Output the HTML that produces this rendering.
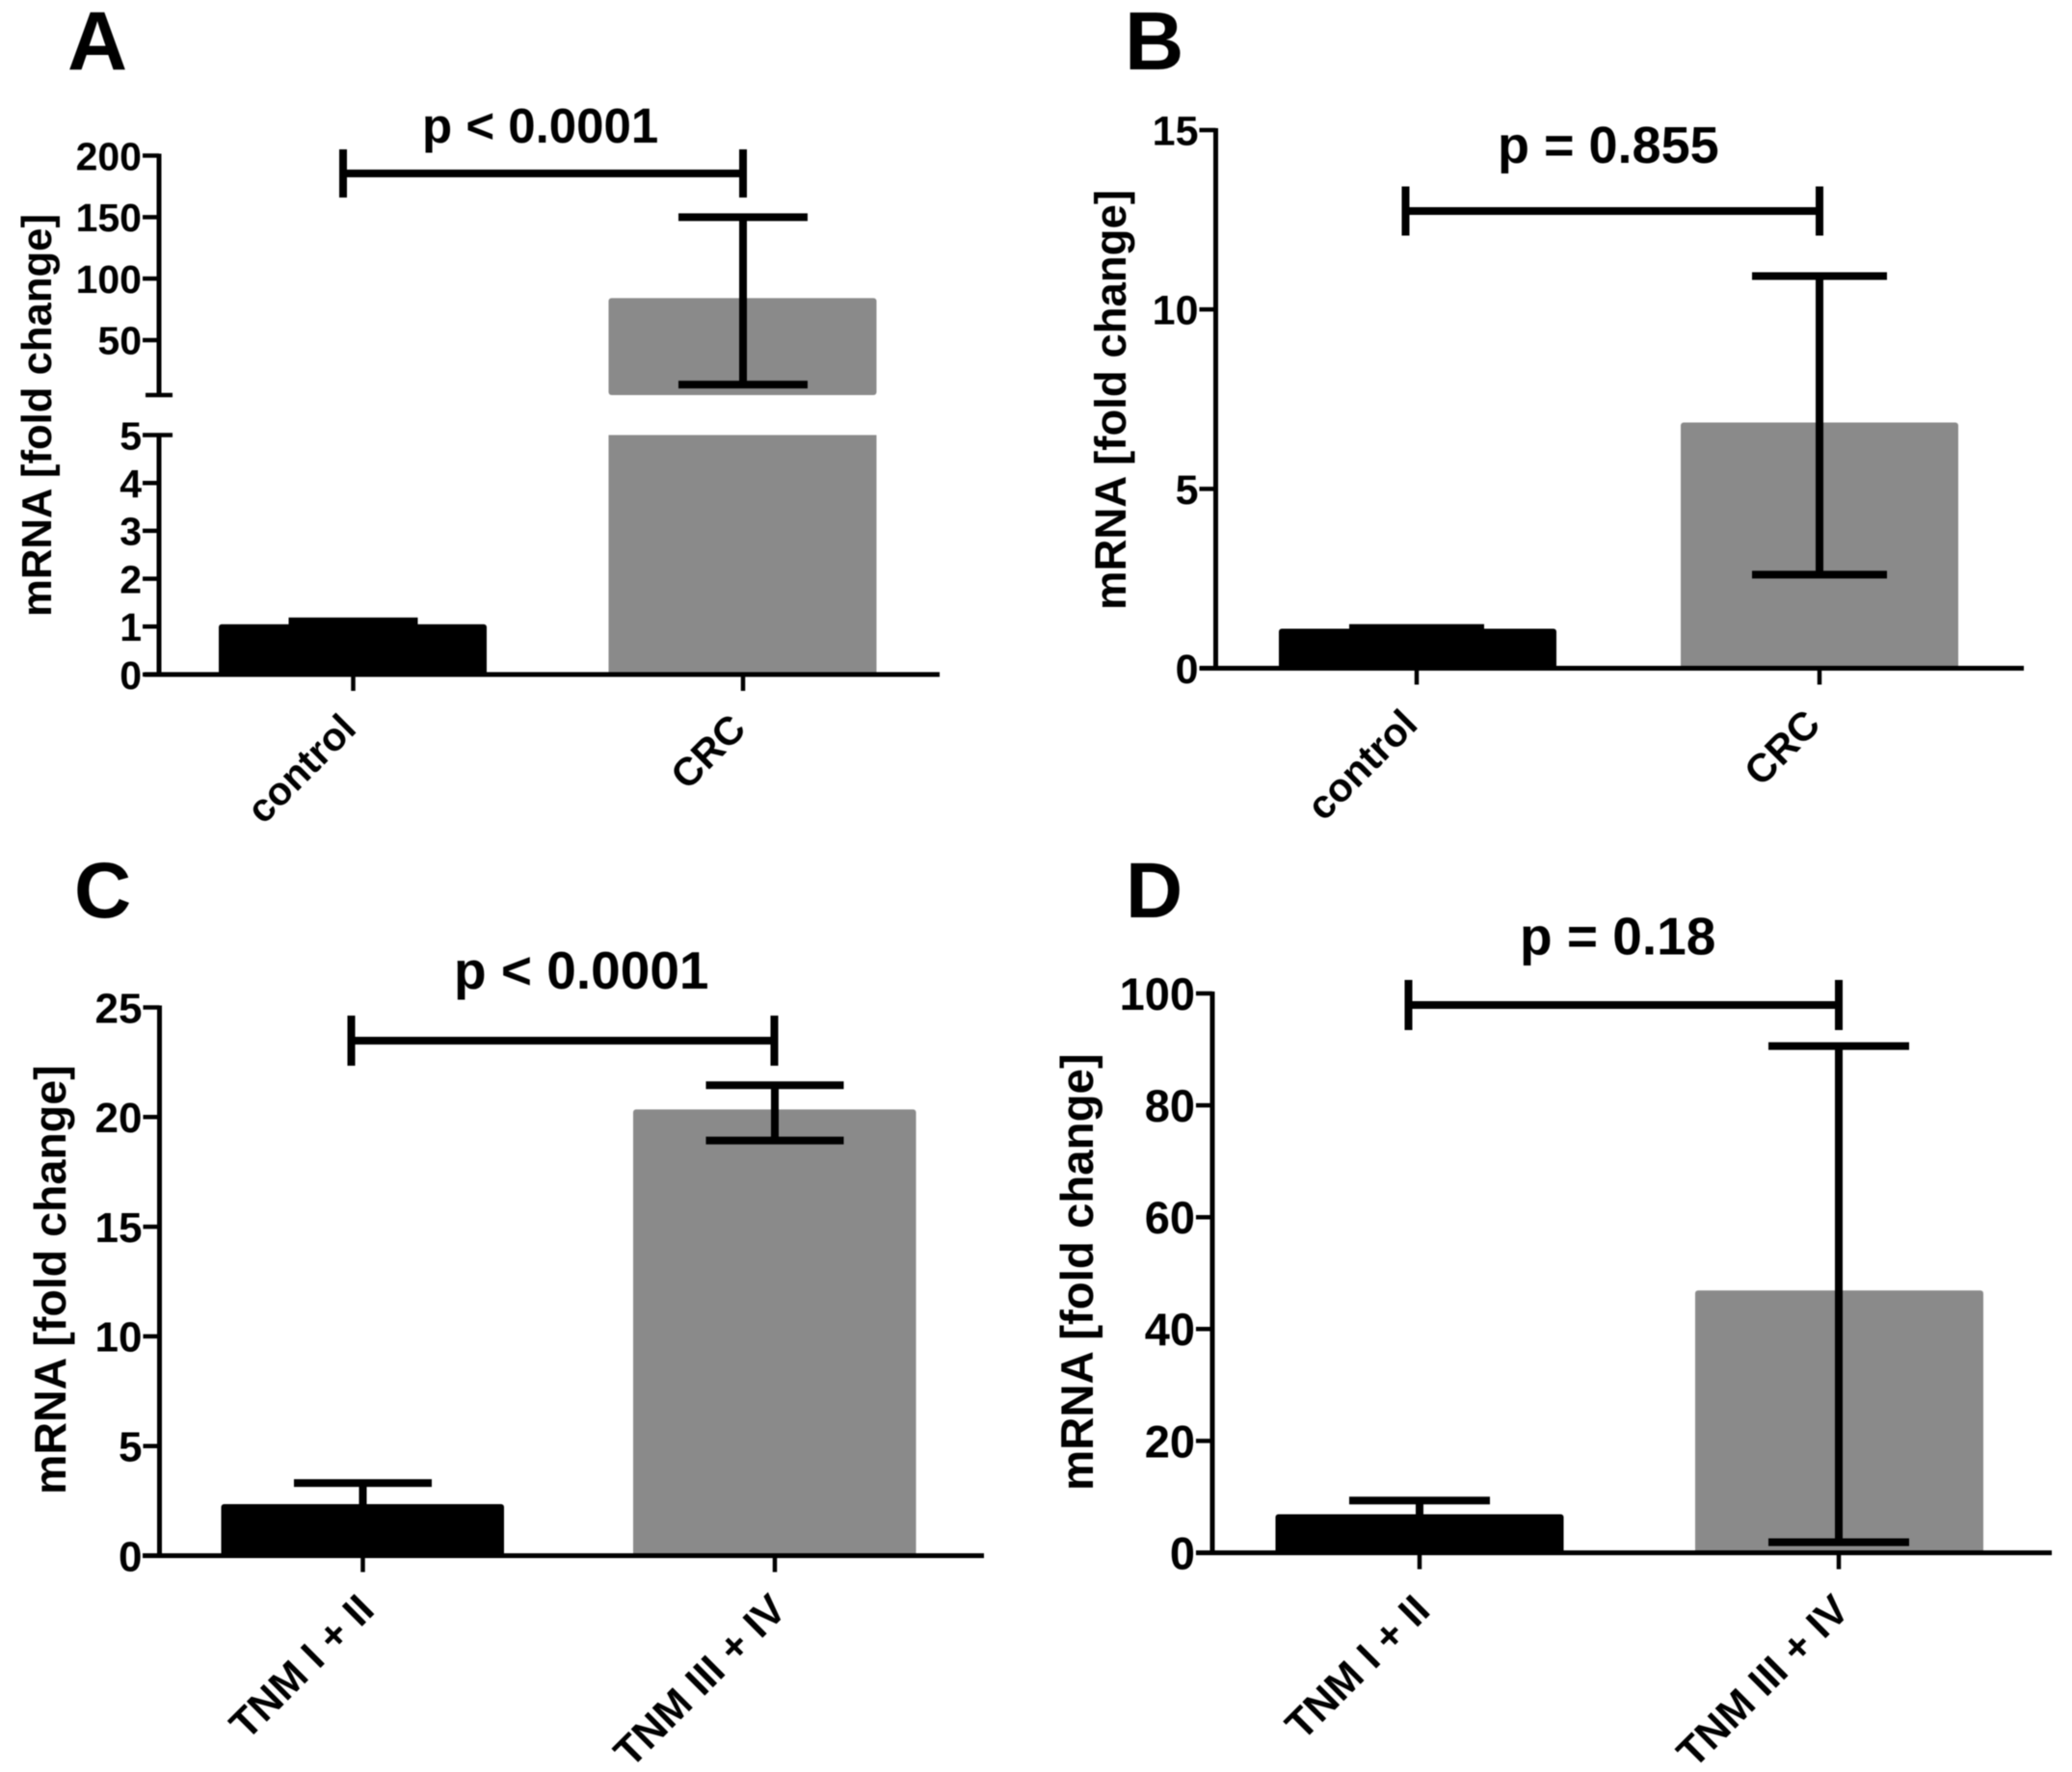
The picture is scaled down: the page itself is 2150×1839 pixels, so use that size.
<!DOCTYPE html>
<html>
<head>
<meta charset="utf-8">
<title>mRNA fold change bar charts</title>
<style>
html,body{margin:0;padding:0;background:#fff;}
svg{display:block;filter:blur(0.6px);}
text{font-family:"Liberation Sans",Arial,sans-serif;font-weight:bold;fill:#000;}
</style>
</head>
<body>
<svg id="figure" xmlns="http://www.w3.org/2000/svg" width="2150" height="1839" viewBox="0 0 2150 1839">
<rect width="2150" height="1839" fill="#fff"/>
</svg>
<script>
// ---- data: panel A ----
const categoriesA = ['control', 'CRC'];
const meansA = [1.05, 84.1];
const errLowA = [0.95, 13.8];
const errHighA = [1.11, 150];
const ticksLowerA = [0, 1, 2, 3, 4, 5];
const ticksUpperA = [50, 100, 150, 200];
const pLabelA = 'p < 0.0001';
// ---- data: panel B ----
const categoriesB = ['control', 'CRC'];
const meansB = [1.10, 6.85];
const errLowB = [1.0, 2.61];
const errHighB = [1.12, 10.93];
const ticksB = [0, 5, 10, 15];
const pLabelB = 'p = 0.855';
// ---- data: panel C ----
const categoriesC = ['TNM I + II', 'TNM III + IV'];
const meansC = [2.35, 20.35];
const errLowC = [1.27, 18.93];
const errHighC = [3.31, 21.45];
const ticksC = [0, 5, 10, 15, 20, 25];
const pLabelC = 'p < 0.0001';
// ---- data: panel D ----
const categoriesD = ['TNM I + II', 'TNM III + IV'];
const meansD = [6.9, 46.9];
const errLowD = [3.9, 1.9];
const errHighD = [9.35, 90.6];
const ticksD = [0, 20, 40, 60, 80, 100];
const pLabelD = 'p = 0.18';

const yTitle = 'mRNA [fold change]';
const svg = document.getElementById('figure');
const NS = 'http://www.w3.org/2000/svg';

function make(tag, attrs, parent, name) {
  const el = document.createElementNS(NS, tag);
  for (const k in attrs) el.setAttribute(k, attrs[k]);
  
  
  parent.appendChild(el);
  return el;
}
function line(parent, x1, y1, x2, y2, w, name) {
  return make('line', {x1: x1, y1: y1, x2: x2, y2: y2, stroke: '#000', 'stroke-width': w}, parent, name);
}
function label(parent, str, attrs, name) {
  const t = make('text', attrs, parent, name);
  t.textContent = str;
  return t;
}

function drawPanel(p) {
  const g = make('g', {}, svg, 'panel-' + p.letter.toLowerCase());
  const segY = (s, v) => s.pxBottom + (v - s.min) / (s.max - s.min) * (s.pxTop - s.pxBottom);
  const segFor = v => p.segments.find(s => v <= s.max) || p.segments[p.segments.length - 1];
  const y = v => segY(segFor(v), v);
  const x = i => p.xFirst + i * (p.xSecond - p.xFirst);
  const baseY = p.segments[0].pxBottom;

  label(g, p.letter, {x: p.letterX, y: p.letterY, 'font-size': p.letterFont}, 'panel-letter-' + p.letter.toLowerCase());

  // bars
  p.means.forEach((m, i) => {
    p.segments.forEach((s, j) => {
      if (m <= s.min) return;
      const top = segY(s, Math.min(m, s.max));
      const bot = s.pxBottom;
      make('rect', {x: p.barLeft[i], y: top, width: p.barWidth, height: bot - top, rx: m <= s.max ? 3 : 0,
        fill: i === 0 ? '#000' : '#8a8a8a'}, g, 'bar-' + p.categories[i].toLowerCase().replace(/[^a-z]+/g, '-') + '-seg-' + j);
    });
  });

  // error bars
  p.means.forEach((m, i) => {
    const hi = y(p.errHigh[i]), lo = y(p.errLow[i]), cx = x(i), cap = p.capHalf;
    line(g, cx, hi, cx, lo, 8, 'error-stem-' + i);
    line(g, cx - cap, hi, cx + cap, hi, 8, 'error-cap-high-' + i);
    line(g, cx - cap, lo, cx + cap, lo, 8, 'error-cap-low-' + i);
  });

  // y axis segments
  p.segments.forEach((s, j) => {
    line(g, p.axisX, s.pxBottom + (j === 0 ? 2 : 0), p.axisX, s.pxTop - (j === p.segments.length - 1 ? 2 : 0), 5, 'y-axis-line-' + j);
    s.ticks.forEach(t => {
      const broken = p.segments.length > 1 && j === 0 && t === s.max;
      line(g, p.axisX - 17, segY(s, t), p.axisX + (broken ? 14 : 0), segY(s, t), 4.5, 'y-tick-' + t);
      label(g, String(t), {x: p.axisX - 18, y: segY(s, t) + p.tickFont * 0.36, 'text-anchor': 'end', 'font-size': p.tickFont}, 'y-tick-label-' + t);
    });
    if (j > 0) line(g, p.axisX - 14, s.pxBottom, p.axisX + 14, s.pxBottom, 4.5, 'y-axis-break-tick');
  });

  // x axis
  line(g, p.xAxisLeft, baseY, p.xAxisRight, baseY, 5, 'x-axis-line');
  p.categories.forEach((c, i) => {
    line(g, x(i), baseY, x(i), baseY + 17, 4.5, 'x-tick-' + i);
    const lx = x(i) + p.labelDx, ly = baseY + p.labelDy;
    label(g, c, {x: lx, y: ly, 'text-anchor': 'end', 'font-size': p.catFont,
      transform: 'rotate(-45 ' + lx + ' ' + ly + ')'}, 'x-category-label-' + i);
  });

  // axis title
  label(g, yTitle, {'font-size': p.titleFont, textLength: p.titleLen, lengthAdjust: 'spacingAndGlyphs',
    transform: 'translate(' + p.titleX + ' ' + p.titleBottom + ') rotate(-90)'}, 'y-axis-title');

  // significance bracket
  line(g, p.bracketLeft, p.bracketY, p.bracketRight, p.bracketY, 8, 'significance-bracket');
  line(g, p.bracketLeft, p.bracketY - p.bracketTick, p.bracketLeft, p.bracketY + p.bracketTick, 8, 'significance-bracket-left-end');
  line(g, p.bracketRight, p.bracketY - p.bracketTick, p.bracketRight, p.bracketY + p.bracketTick, 8, 'significance-bracket-right-end');
  label(g, p.pLabel, {x: p.pX, y: p.pY, 'font-size': p.pFont}, 'p-value-label');
}

drawPanel({
  letter: 'A', letterX: 70, letterY: 72, letterFont: 86,
  categories: categoriesA, means: meansA, errLow: errLowA, errHigh: errHighA, pLabel: pLabelA,
  segments: [
    {min: 0, max: 5, pxBottom: 700, pxTop: 451.5, ticks: ticksLowerA},
    {min: 5.3, max: 200, pxBottom: 410, pxTop: 161.5, ticks: ticksUpperA}
  ],
  axisX: 165, xAxisLeft: 150, xAxisRight: 975, xFirst: 366.5, xSecond: 771,
  barLeft: [227, 631.5], barWidth: 278, capHalf: 67,
  tickFont: 41, catFont: 41, labelDx: 5, labelDy: 58.5,
  titleFont: 44, titleLen: 418, titleX: 53, titleBottom: 640,
  bracketLeft: 356, bracketRight: 771, bracketY: 180, bracketTick: 25,
  pX: 438, pY: 148, pFont: 51
});
drawPanel({
  letter: 'B', letterX: 1167, letterY: 72, letterFont: 85,
  categories: categoriesB, means: meansB, errLow: errLowB, errHigh: errHighB, pLabel: pLabelB,
  segments: [{min: 0, max: 15, pxBottom: 693.5, pxTop: 135, ticks: ticksB}],
  axisX: 1261.5, xAxisLeft: 1245, xAxisRight: 2100, xFirst: 1470, xSecond: 1888,
  barLeft: [1327, 1744], barWidth: 288, capHalf: 70,
  tickFont: 43, catFont: 41.5, labelDx: 3, labelDy: 60.5,
  titleFont: 45.4, titleLen: 436, titleX: 1168, titleBottom: 633,
  bracketLeft: 1458.5, bracketRight: 1888, bracketY: 219, bracketTick: 25.5,
  pX: 1554, pY: 169, pFont: 54
});
drawPanel({
  letter: 'C', letterX: 77, letterY: 952, letterFont: 82,
  categories: categoriesC, means: meansC, errLow: errLowC, errHigh: errHighC, pLabel: pLabelC,
  segments: [{min: 0, max: 25, pxBottom: 1614.5, pxTop: 1045.5, ticks: ticksC}],
  axisX: 165.5, xAxisLeft: 148, xAxisRight: 1021, xFirst: 376.5, xSecond: 804,
  barLeft: [229.5, 657], barWidth: 293.5, capHalf: 71.5,
  tickFont: 44, catFont: 43, labelDx: 14, labelDy: 58.5,
  titleFont: 46.4, titleLen: 445.6, titleX: 68, titleBottom: 1551,
  bracketLeft: 364.5, bracketRight: 803.5, bracketY: 1080, bracketTick: 26,
  pX: 471, pY: 1026, pFont: 55
});
drawPanel({
  letter: 'D', letterX: 1168, letterY: 952, letterFont: 82,
  categories: categoriesD, means: meansD, errLow: errLowD, errHigh: errHighD, pLabel: pLabelD,
  segments: [{min: 0, max: 100, pxBottom: 1611.5, pxTop: 1031, ticks: ticksD}],
  axisX: 1258, xAxisLeft: 1241, xAxisRight: 2129, xFirst: 1473, xSecond: 1908,
  barLeft: [1323.5, 1759], barWidth: 299, capHalf: 73,
  tickFont: 47, catFont: 43, labelDx: 13, labelDy: 62,
  titleFont: 47, titleLen: 453.7, titleX: 1134, titleBottom: 1547,
  bracketLeft: 1461.5, bracketRight: 1908, bracketY: 1043, bracketTick: 26,
  pX: 1577, pY: 990.5, pFont: 55
});
</script>
</body>
</html>
